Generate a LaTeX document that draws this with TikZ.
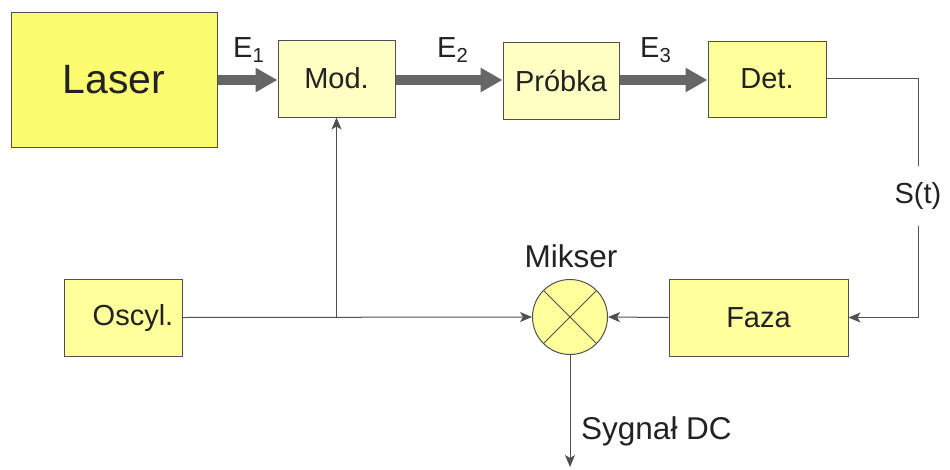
\documentclass[tikz,border=0pt]{standalone}
\usepackage{fontspec}
\setmainfont{Liberation Sans}
\usetikzlibrary{arrows.meta,calc}
\definecolor{laserY}{HTML}{FCFC70}
\definecolor{paleY}{HTML}{FFFFC4}
\definecolor{midY}{HTML}{FFFF9C}
\definecolor{edge}{HTML}{505050}
\definecolor{txt}{HTML}{222222}
\definecolor{beam}{HTML}{666666}
\begin{document}
\begin{tikzpicture}[x=1pt,y=-1pt,
  blk/.style={draw=edge,line width=1pt,inner sep=0pt,text=txt,font=\fontsize{29}{32}\selectfont},
  lbl/.style={inner sep=0pt,text=txt,font=\fontsize{29}{32}\selectfont},
  biglbl/.style={lbl,font=\fontsize{31.5}{34}\selectfont},
  beamarrow/.style={draw=beam,line width=10pt,-{Triangle[length=22pt,width=23pt]}},
  wire/.style={draw=edge,line width=1pt},
  wirearrow/.style={wire,-{Stealth[length=12pt,width=10pt,inset=3pt]}}]
\useasboundingbox (0,0) rectangle (950,469);
\fill[white] (0,0) rectangle (950,469);

\node[blk,fill=laserY,minimum width=206pt,minimum height=135pt,font=\fontsize{41}{44}\selectfont] (laser) at (114,79.5) {Laser};
\node[blk,fill=paleY,minimum width=117pt,minimum height=77pt] (mod) at (336.5,78.5) {Mod.};
\node[blk,fill=paleY,minimum width=116pt,minimum height=77pt] (probka) at (561,80.5) {Próbka};
\node[blk,fill=midY,minimum width=118pt,minimum height=76pt] (det) at (767,79) {Det.};
\node[blk,fill=midY,minimum width=118pt,minimum height=77pt] (osc) at (123,317.5) {};
\node[lbl] (osctext) at (133,318) {Oscyl.};
\node[blk,fill=midY,minimum width=179pt,minimum height=77pt] (faza) at (758.5,317.5) {Faza};
\node[draw=edge,line width=1pt,fill=midY,circle,minimum size=75pt,inner sep=0pt] (mix) at (570,317) {};
\draw[wire] (mix.45) -- (mix.225);
\draw[wire] (mix.135) -- (mix.-45);
\node[biglbl] (mikser) at (571,256) {Mikser};

% beams
\draw[beamarrow] (laser.east |- 0,80) -- (mod.west |- 0,80);
\draw[beamarrow] (mod.east |- 0,80) -- (probka.west |- 0,80);
\draw[beamarrow] (probka.east |- 0,80) -- (det.west |- 0,80);
\node[lbl,anchor=base west] (e1) at (233,57) {E\textsubscript{1}};
\node[lbl,anchor=base west] (e2) at (437,57) {E\textsubscript{2}};
\node[lbl,anchor=base west] (e3) at (640,57) {E\textsubscript{3}};

% signal path
\node[lbl,minimum height=60pt] (st) at (918,196) {S(t)};
\draw[wire] (det.east |- 0,78) -| (st.north);
\draw[wirearrow] (st.south) |- (faza.east);
\draw[wirearrow] (faza.west) -- (mix.east);
\coordinate (branch) at (mod.south |- osc.east);
\draw[wirearrow] (osc.east) -- (mix.west);
\draw[wirearrow] (branch) -- (mod.south);
\coordinate (out) at (570,467);
\draw[wirearrow] (mix.south) -- (out);
\node[biglbl,anchor=base west] (dc) at (581,439) {Sygnał DC};
\end{tikzpicture}
\end{document}
